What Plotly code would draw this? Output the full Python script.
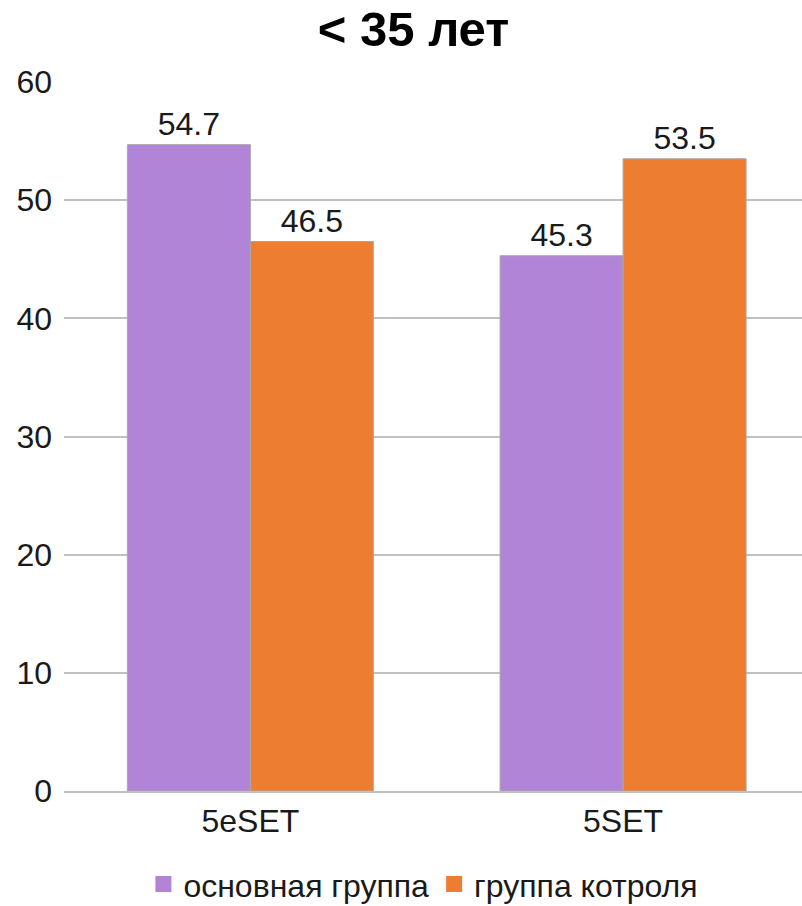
import plotly.graph_objects as go

categories = ["5eSET", "5SET"]
main_group = [54.7, 45.3]
control_group = [46.5, 53.5]
series_names = ["основная группа", "группа котроля"]
series_colors = ["#b284d8", "#ed7d31"]
y_ticks = [0, 10, 20, 30, 40, 50, 60]
title_text = "< 35 лет"

font_family = "Liberation Sans, Arial, sans-serif"
num_size = 32

fig = go.Figure()
for name, vals, color in zip(series_names, [main_group, control_group], series_colors):
    fig.add_trace(go.Bar(
        x=categories, y=vals, name=name, showlegend=False, legendgroup=name,
        marker=dict(color=color, line=dict(color="#a8a8a8", width=1)),
        text=[f"{v:.1f}" for v in vals], textposition="outside",
        textfont=dict(size=num_size, color="#1a1a1a", family=font_family),
        cliponaxis=False,
    ))
# legend entries (square swatches)
for name, color in zip(series_names, series_colors):
    fig.add_trace(go.Scatter(
        x=[None], y=[None], mode="markers", name=name, legendgroup=name,
        marker=dict(symbol="square", size=17, color=color),
        showlegend=True,
    ))

fig.update_layout(
    width=802, height=906,
    margin=dict(l=64, r=0, t=82, b=115, autoexpand=False),
    paper_bgcolor="white", plot_bgcolor="white",
    font=dict(family=font_family, size=num_size, color="#1a1a1a"),
    title=dict(text=f"<b>{title_text}</b>", x=0.5156, xanchor="center",
               y=0.968, yanchor="middle",
               font=dict(size=49, color="#000000", family=font_family)),
    barmode="group", bargap=0.34, bargroupgap=0,
    showlegend=True,
    legend=dict(orientation="h", x=0.487, xanchor="center",
                yref="container", y=0.024, yanchor="middle",
                font=dict(size=32, color="#1a1a1a"), itemwidth=30,
                traceorder="normal", itemsizing="trace"),
)
fig.update_xaxes(
    range=[-0.5, 1.48], showgrid=False, showline=True,
    linecolor="#c0c0c0", linewidth=2, ticks="", ticklabelstandoff=1,
    tickfont=dict(size=num_size, color="#1a1a1a"), automargin=False,
)
fig.update_yaxes(
    range=[0, 60], tickvals=y_ticks, showgrid=True, gridcolor="#c0c0c0",
    gridwidth=2, zeroline=False, showline=False, ticks="", ticklabelstandoff=11,
    tickfont=dict(size=num_size, color="#1a1a1a"), automargin=False,
)

fig.write_html("out.html")
